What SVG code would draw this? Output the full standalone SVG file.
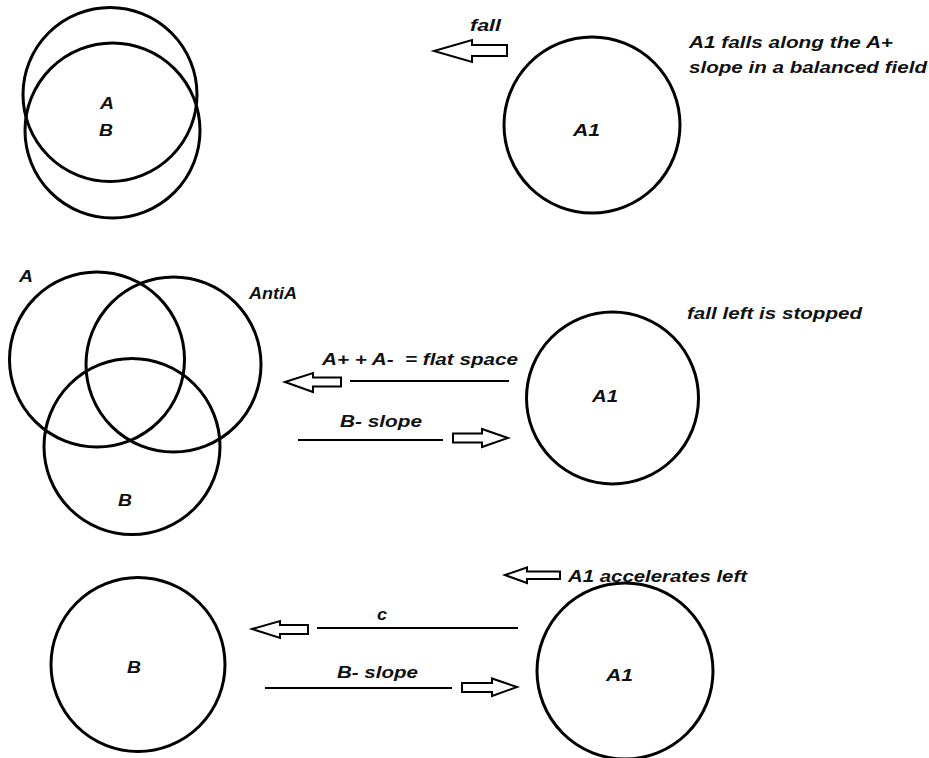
<svg xmlns="http://www.w3.org/2000/svg" width="929" height="758" viewBox="0 0 929 758">
<style>
.c{fill:none;stroke:#000;stroke-width:3}
.ln{stroke:#000;stroke-width:2;fill:none}
.ar{fill:#fff;stroke:#000;stroke-width:2;stroke-linejoin:miter}
text{font-family:"Liberation Sans",Arial,sans-serif;font-weight:bold;font-style:italic;font-size:17px;fill:#111;white-space:pre}
</style>
<rect width="929" height="758" fill="#fff"/>
<g id="node-A-top"><circle class="c" cx="110" cy="94.5" r="87"/><text x="100" y="109" textLength="14" lengthAdjust="spacingAndGlyphs">A</text></g>
<g id="node-B-top"><circle class="c" cx="112.5" cy="130.5" r="87.5"/><text x="99" y="136" textLength="14" lengthAdjust="spacingAndGlyphs">B</text></g>
<g id="node-A1-top"><circle class="c" cx="592" cy="125" r="88"/><text x="573" y="136" textLength="27" lengthAdjust="spacingAndGlyphs">A1</text></g>
<g id="label-top"><text x="689" y="48" textLength="204" lengthAdjust="spacingAndGlyphs">A1 falls along the A+</text><text x="689" y="73" textLength="238" lengthAdjust="spacingAndGlyphs">slope in a balanced field</text></g>

<g id="node-A-mid"><circle class="c" cx="97" cy="359.5" r="87.5"/><text x="19" y="282" textLength="14" lengthAdjust="spacingAndGlyphs">A</text></g>
<g id="node-AntiA-mid"><circle class="c" cx="173.5" cy="364.5" r="87.5"/><text x="249" y="299" textLength="48" lengthAdjust="spacingAndGlyphs">AntiA</text></g>
<g id="node-B-mid"><circle class="c" cx="132" cy="446.5" r="88"/><text x="118" y="506" textLength="14" lengthAdjust="spacingAndGlyphs">B</text></g>
<g id="node-A1-mid"><circle class="c" cx="612.5" cy="398" r="86"/><text x="592" y="402" textLength="26" lengthAdjust="spacingAndGlyphs">A1</text></g>
<g id="label-mid"><text x="687" y="319" textLength="175" lengthAdjust="spacingAndGlyphs">fall left is stopped</text></g>

<g id="node-B-bot"><circle class="c" cx="138" cy="664.5" r="87"/><text x="127" y="673" textLength="14" lengthAdjust="spacingAndGlyphs">B</text></g>
<g id="node-A1-bot"><circle class="c" cx="625" cy="671" r="88"/><text x="606" y="681" textLength="27" lengthAdjust="spacingAndGlyphs">A1</text></g>
<g id="label-bot"><text x="568" y="582" textLength="179" lengthAdjust="spacingAndGlyphs">A1 accelerates left</text></g>

<g id="connectors">
<polygon class="ar" points="434,51 472,40 472,45 507,45 507,56 472,56 472,62"/>
<text x="470" y="31" textLength="31" lengthAdjust="spacingAndGlyphs">fall</text>

<line class="ln" x1="350" y1="381" x2="509" y2="381"/>
<polygon class="ar" points="285,382 313,373 313,377.5 341,377.5 341,386.5 313,386.5 313,392"/>
<text x="322" y="365" textLength="196" lengthAdjust="spacingAndGlyphs">A+ + A-  = flat space</text>
<line class="ln" x1="298" y1="440" x2="443" y2="440"/>
<polygon class="ar" points="508,438 482,429 482,433.5 453,433.5 453,442.5 482,442.5 482,447"/>
<text x="340" y="427" textLength="82" lengthAdjust="spacingAndGlyphs">B- slope</text>

<polygon class="ar" points="505,575 527,567.5 527,571.5 560,571.5 560,579 527,579 527,583"/>
<line class="ln" x1="317" y1="628" x2="518" y2="628"/>
<polygon class="ar" points="252,629 280,621 280,625 308,625 308,634 280,634 280,638"/>
<text x="377" y="620" textLength="10" lengthAdjust="spacingAndGlyphs">c</text>
<line class="ln" x1="265" y1="688" x2="452" y2="688"/>
<polygon class="ar" points="517,687 492,678.5 492,683 462,683 462,692 492,692 492,696"/>
<text x="337" y="678" textLength="81" lengthAdjust="spacingAndGlyphs">B- slope</text>
</g>
</svg>
